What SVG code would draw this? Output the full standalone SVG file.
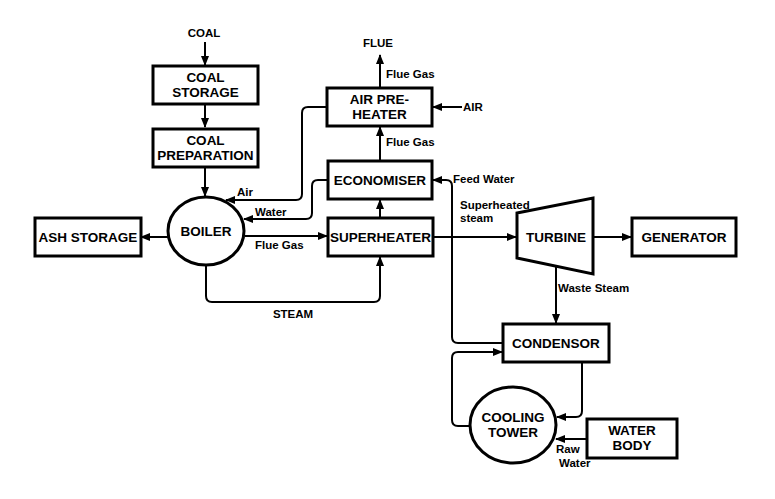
<svg xmlns="http://www.w3.org/2000/svg" width="775" height="499" viewBox="0 0 775 499">
<defs>
<marker id="ah" markerWidth="10" markerHeight="8" refX="9" refY="4" orient="auto" markerUnits="userSpaceOnUse">
<path d="M0,0 L10,4 L0,8 Z" fill="#000"/>
</marker>
<style>
.box{fill:#fff;stroke:#000;stroke-width:3}
.t{font-family:"Liberation Sans",Arial,sans-serif;font-weight:bold;font-size:13.5px;text-anchor:middle;fill:#000}
.l{font-family:"Liberation Sans",Arial,sans-serif;font-weight:bold;font-size:11.5px;fill:#000}
.c{fill:none;stroke:#000;stroke-width:2;marker-end:url(#ah)}
.n{fill:none;stroke:#000;stroke-width:2}
</style>
</defs>
<rect width="775" height="499" fill="#fff"/>
<g id="connectors">
<path class="c" d="M205,42 V65"/>
<path class="c" d="M205,104 V127"/>
<path class="c" d="M205,167 V196"/>
<path class="c" d="M168,237 H141"/>
<path class="c" d="M245,236 H327"/>
<path class="c" d="M206,265 V296 Q206,302 212,302 H374 Q380,302 380,296 V257"/>
<path class="c" d="M380,218 V200"/>
<path class="c" d="M380,161 V127"/>
<path class="c" d="M380,88 V55"/>
<path class="c" d="M462,107 H433"/>
<path class="c" d="M327,107 H308 Q302,107 302,113 V194 Q302,200 296,200 H226"/>
<path class="c" d="M328,180 H318 Q312,180 312,186 V213 Q312,219 306,219 H244"/>
<path class="c" d="M503,343 H458 Q452,343 452,337 V186 Q452,180 446,180 H433"/>
<path class="c" d="M433,237 H516"/>
<path class="c" d="M593,237 H631"/>
<path class="c" d="M556,266 V323"/>
<path class="c" d="M470,426 H458 Q452,426 452,420 V358 Q452,352 458,352 H502"/>
<path class="c" d="M582,362 V411 Q582,417 576,417 H557"/>
<path class="c" d="M587,439 H556"/>
</g>
<g id="coal-storage"><rect class="box" x="153" y="66" width="105" height="38"/><text class="t" x="205.5" y="82">COAL</text><text class="t" x="205.5" y="97">STORAGE</text></g>
<g id="coal-preparation"><rect class="box" x="153" y="129" width="105" height="38"/><text class="t" x="205.5" y="145">COAL</text><text class="t" x="205.5" y="160">PREPARATION</text></g>
<g id="boiler"><ellipse cx="206" cy="231" rx="38" ry="34" fill="#fff" stroke="#000" stroke-width="3"/><text class="t" x="206" y="236">BOILER</text></g>
<g id="ash-storage"><rect class="box" x="35" y="218" width="106" height="38"/><text class="t" x="88" y="242">ASH STORAGE</text></g>
<g id="superheater"><rect class="box" x="328" y="218" width="105" height="38"/><text class="t" x="380.5" y="242">SUPERHEATER</text></g>
<g id="economiser"><rect class="box" x="328" y="161" width="104" height="38"/><text class="t" x="380" y="185">ECONOMISER</text></g>
<g id="air-preheater"><rect class="box" x="327" y="88" width="105" height="38"/><text class="t" x="379.5" y="104">AIR PRE-</text><text class="t" x="379.5" y="119">HEATER</text></g>
<g id="turbine"><path d="M517,213 L593,198 L593,274 L517,258 Z" fill="#fff" stroke="#000" stroke-width="3"/><text class="t" x="556" y="242">TURBINE</text></g>
<g id="generator"><rect class="box" x="632" y="218" width="104" height="38"/><text class="t" x="684" y="242">GENERATOR</text></g>
<g id="condensor"><rect class="box" x="503" y="324" width="106" height="38"/><text class="t" x="556" y="348">CONDENSOR</text></g>
<g id="cooling-tower"><ellipse cx="513" cy="425" rx="43" ry="38" fill="#fff" stroke="#000" stroke-width="3"/><text class="t" x="513" y="422">COOLING</text><text class="t" x="513" y="437">TOWER</text></g>
<g id="water-body"><rect class="box" x="587" y="419" width="90" height="39"/><text class="t" x="632" y="435">WATER</text><text class="t" x="632" y="450">BODY</text></g>
<g id="labels">
<text class="l" x="204" y="37" text-anchor="middle">COAL</text>
<text class="l" x="378" y="47" text-anchor="middle">FLUE</text>
<text class="l" x="386" y="78">Flue Gas</text>
<text class="l" x="463" y="111">AIR</text>
<text class="l" x="386" y="146">Flue Gas</text>
<text class="l" x="453" y="183">Feed Water</text>
<text class="l" x="237" y="196">Air</text>
<text class="l" x="255" y="216">Water</text>
<text class="l" x="255" y="249">Flue Gas</text>
<text class="l" x="460" y="209">Superheated</text>
<text class="l" x="460" y="222">steam</text>
<text class="l" x="293" y="318" text-anchor="middle">STEAM</text>
<text class="l" x="558" y="292">Waste Steam</text>
<text class="l" x="556" y="453">Raw</text>
<text class="l" x="559" y="467">Water</text>
</g>
</svg>
